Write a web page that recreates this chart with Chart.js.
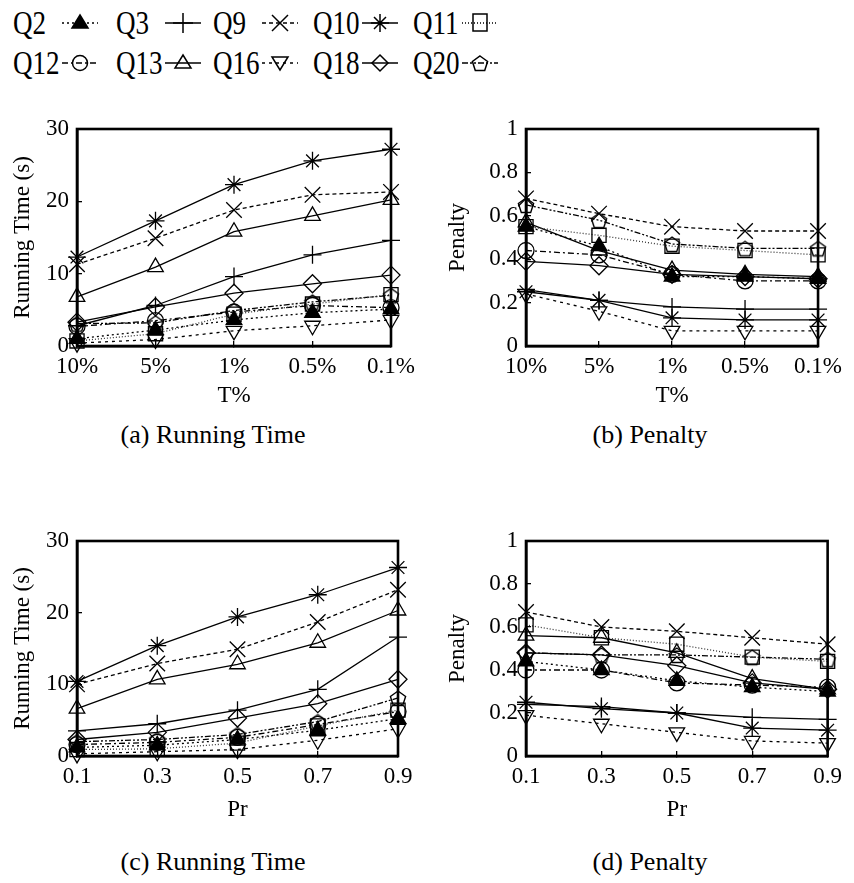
<!DOCTYPE html>
<html><head><meta charset="utf-8">
<script src="https://cdn.jsdelivr.net/npm/chart.js@4.4.0/dist/chart.umd.min.js"></script>
<style>
body{margin:0;background:#fff;width:854px;height:883px;position:relative;overflow:hidden;font-family:'Liberation Serif','Times New Roman','DejaVu Serif',serif;color:#000;}
canvas.cv{position:absolute;}
.legtxt{position:absolute;font-size:33px;line-height:34px;white-space:nowrap;transform:scaleX(0.82);transform-origin:0 50%;}
.legsvg{position:absolute;}
.cap{position:absolute;font-size:26px;line-height:30px;width:400px;text-align:center;white-space:nowrap;}
</style></head><body>
<canvas id="ca" class="cv" width="430" height="310" style="left:0;top:100px"></canvas>
<canvas id="cb" class="cv" width="424" height="310" style="left:430px;top:100px"></canvas>
<canvas id="cc" class="cv" width="430" height="310" style="left:0;top:510px"></canvas>
<canvas id="cd" class="cv" width="424" height="310" style="left:430px;top:510px"></canvas>
<div class="cap" style="left:13px;top:420px">(a) Running Time</div>
<div class="cap" style="left:450px;top:420px">(b) Penalty</div>
<div class="cap" style="left:13px;top:847px">(c) Running Time</div>
<div class="cap" style="left:450px;top:847px">(d) Penalty</div>
<div id="legend"></div>
<script>
// ---- data ----
const seriesNames = ['Q2','Q3','Q9','Q10','Q11','Q12','Q13','Q16','Q18','Q20'];
const tLabels = ['10%','5%','1%','0.5%','0.1%'];
const prLabels = ['0.1','0.3','0.5','0.7','0.9'];
const timeTicks = [0,10,20,30];
const penaltyTicks = [0,0.2,0.4,0.6,0.8,1];

// (a) Running Time vs T%
const timeT_Q2  = [1.0, 2.2, 3.6, 4.6, 5.1];
const timeT_Q3  = [2.8, 5.6, 9.6, 12.6, 14.6];
const timeT_Q9  = [11.3, 14.9, 18.8, 20.9, 21.3];
const timeT_Q10 = [12.3, 17.3, 22.3, 25.6, 27.2];
const timeT_Q11 = [0.7, 1.7, 4.4, 5.8, 7.1];
const timeT_Q12 = [2.7, 3.5, 4.7, 5.6, 5.3];
const timeT_Q13 = [6.8, 10.9, 15.8, 18.0, 20.2];
const timeT_Q16 = [0.4, 0.9, 2.1, 2.8, 3.6];
const timeT_Q18 = [3.3, 5.4, 7.3, 8.6, 9.8];
const timeT_Q20 = [3.1, 3.2, 4.9, 6.1, 7.0];

// (b) Penalty vs T%
const penT_Q2  = [0.55, 0.46, 0.32, 0.32, 0.31];
const penT_Q3  = [0.26, 0.21, 0.18, 0.17, 0.17];
const penT_Q9  = [0.68, 0.61, 0.55, 0.53, 0.53];
const penT_Q10 = [0.25, 0.21, 0.13, 0.12, 0.12];
const penT_Q11 = [0.55, 0.51, 0.46, 0.44, 0.42];
const penT_Q12 = [0.44, 0.42, 0.33, 0.30, 0.30];
const penT_Q13 = [0.57, 0.44, 0.35, 0.33, 0.32];
const penT_Q16 = [0.24, 0.16, 0.07, 0.07, 0.07];
const penT_Q18 = [0.39, 0.37, 0.33, 0.32, 0.31];
const penT_Q20 = [0.65, 0.58, 0.47, 0.45, 0.45];

// (c) Running Time vs Pr
const timePr_Q2  = [1.2, 1.5, 2.3, 3.6, 5.2];
const timePr_Q3  = [3.5, 4.5, 6.4, 9.3, 16.6];
const timePr_Q9  = [10.0, 12.9, 14.9, 18.7, 23.2];
const timePr_Q10 = [10.4, 15.4, 19.4, 22.5, 26.3];
const timePr_Q11 = [0.9, 1.0, 1.8, 4.2, 6.4];
const timePr_Q12 = [1.6, 1.9, 2.6, 4.4, 6.2];
const timePr_Q13 = [6.6, 10.7, 12.8, 15.8, 20.3];
const timePr_Q16 = [0.3, 0.6, 0.9, 2.2, 3.8];
const timePr_Q18 = [2.3, 3.3, 5.3, 7.3, 10.7];
const timePr_Q20 = [2.0, 2.3, 3.0, 4.8, 8.1];

// (d) Penalty vs Pr
const penPr_Q2  = [0.44, 0.40, 0.35, 0.32, 0.30];
const penPr_Q3  = [0.24, 0.23, 0.20, 0.18, 0.17];
const penPr_Q9  = [0.67, 0.60, 0.58, 0.55, 0.52];
const penPr_Q10 = [0.25, 0.22, 0.20, 0.13, 0.12];
const penPr_Q11 = [0.61, 0.55, 0.52, 0.46, 0.44];
const penPr_Q12 = [0.40, 0.40, 0.34, 0.33, 0.32];
const penPr_Q13 = [0.56, 0.55, 0.48, 0.36, 0.31];
const penPr_Q16 = [0.19, 0.15, 0.11, 0.07, 0.06];
const penPr_Q18 = [0.48, 0.47, 0.42, 0.34, 0.31];
const penPr_Q20 = [0.48, 0.47, 0.47, 0.46, 0.45];

const timeT = [timeT_Q2,timeT_Q3,timeT_Q9,timeT_Q10,timeT_Q11,timeT_Q12,timeT_Q13,timeT_Q16,timeT_Q18,timeT_Q20];
const penT = [penT_Q2,penT_Q3,penT_Q9,penT_Q10,penT_Q11,penT_Q12,penT_Q13,penT_Q16,penT_Q18,penT_Q20];
const timePr = [timePr_Q2,timePr_Q3,timePr_Q9,timePr_Q10,timePr_Q11,timePr_Q12,timePr_Q13,timePr_Q16,timePr_Q18,timePr_Q20];
const penPr = [penPr_Q2,penPr_Q3,penPr_Q9,penPr_Q10,penPr_Q11,penPr_Q12,penPr_Q13,penPr_Q16,penPr_Q18,penPr_Q20];

// ---- styles ----
function makePentagon(r){
  const c = document.createElement('canvas');
  const s = Math.ceil(r*2+4); c.width = s; c.height = s;
  const g = c.getContext('2d');
  g.strokeStyle = '#000'; g.lineWidth = 1.4;
  g.beginPath();
  for (let k=0;k<5;k++){
    const a = -Math.PI/2 + k*2*Math.PI/5;
    const px = s/2 + r*Math.cos(a), py = s/2 + 1 + r*Math.sin(a);
    k ? g.lineTo(px,py) : g.moveTo(px,py);
  }
  g.closePath(); g.stroke();
  return c;
}
const pent = makePentagon(8);
const styles = [
  {dash:[2,3], ps:'triangle', r:9, fill:true, sym:'tri'},
  {dash:[], ps:'cross', r:9, sym:'plus'},
  {dash:[4,3], ps:'crossRot', r:11, sym:'x'},
  {dash:[], ps:'star', r:9, sym:'star'},
  {dash:[1,2], ps:'rect', r:10, sym:'sq', color:'#333'},
  {dash:[6,3,2,3], ps:'circle', r:8, sym:'circ'},
  {dash:[], ps:'triangle', r:9, sym:'tri'},
  {dash:[3,4], ps:'triangle', r:9, rot:180, sym:'dtri'},
  {dash:[], ps:'rectRot', r:9, sym:'dia'},
  {dash:[6,2,2,2,2,2], ps:pent, r:8, sym:'pent'}
];

const font = {family:"'Liberation Serif', 'Times New Roman', 'DejaVu Serif', serif", size:23};
const framePlugin = {
  id:'frame',
  afterDraw(chart){
    const a = chart.chartArea, c = chart.ctx;
    c.save(); c.strokeStyle='#000'; c.lineWidth=2.6;
    c.strokeRect(a.left, a.top, a.right-a.left, a.bottom-a.top);
    c.restore();
  }
};

function makeChart(id, labels, dataArr, yTicks, yMax, yTitle, xTitle, g){
  new Chart(document.getElementById(id), {
    type:'line',
    data:{
      labels: labels,
      datasets: seriesNames.map((n,i)=>({
        label:n, data:dataArr[i],
        borderColor: styles[i].color || '#000', borderWidth:1.3, borderDash:styles[i].dash,
        pointStyle: styles[i].ps, pointRadius: styles[i].r, pointRotation: styles[i].rot||0,
        pointBackgroundColor: styles[i].fill ? '#000' : 'rgba(0,0,0,0)',
        pointBorderColor:'#000', pointBorderWidth:1.3,
        fill:false, tension:0, clip:false
      }))
    },
    options:{
      responsive:false, animation:false, events:[],
      layout:{padding:{top:g.top, right:g.right, left:0, bottom:0}},
      plugins:{legend:{display:false}, tooltip:{enabled:false}},
      scales:{
        x:{
          type:'category', offset:false,
          afterFit: s => { s.height = 64; },
          grid:{display:true, drawOnChartArea:false, drawTicks:true, tickLength:-5, color:'#000', lineWidth:1.3},
          border:{display:true, color:'#000', width:2.6},
          ticks:{font:font, color:'#000', padding:12, maxRotation:0, autoSkip:false},
          title:{display:true, text:xTitle, font:font, color:'#000', padding:{top:0, bottom:g.xtb}}
        },
        y:{
          min:0, max:yMax,
          afterFit: s => { s.width = g.yw; },
          afterBuildTicks: s => { s.ticks = yTicks.map(v => ({value:v})); },
          grid:{display:true, drawOnChartArea:false, drawTicks:true, tickLength:-5, color:'#000', lineWidth:1.3},
          border:{display:true, color:'#000', width:2.6},
          ticks:{font:font, color:'#000', padding:13, callback: v => String(+(+v).toFixed(2))},
          title:{display:true, text:yTitle, font:font, color:'#000', padding:{top:g.ytp, bottom:0}}
        }
      }
    },
    plugins:[framePlugin]
  });
}

makeChart('ca', tLabels, timeT, timeTicks, 30, 'Running Time (s)', 'T%', {top:29, right:39, yw:77, ytp:9, xtb:0});
makeChart('cb', tLabels, penT, penaltyTicks, 1, 'Penalty', 'T%', {top:29, right:27, yw:96, ytp:14, xtb:0});
makeChart('cc', prLabels, timePr, timeTicks, 30, 'Running Time (s)', 'Pr', {top:31, right:32, yw:77, ytp:9, xtb:-4});
makeChart('cd', prLabels, penPr, penaltyTicks, 1, 'Penalty', 'Pr', {top:31, right:21, yw:96, ytp:14, xtb:-4});

// ---- legend (HTML text + SVG samples) ----
function symSvg(sym, fill){
  const st = 'stroke="#000" stroke-width="1.5"';
  switch(sym){
    case 'tri': return `<polygon points="18,7 26,20 10,20" ${st} fill="${fill?'#000':'none'}"/>`;
    case 'dtri': return `<polygon points="10,9 26,9 18,22" ${st} fill="none"/>`;
    case 'plus': return `<path d="M18,5 V25 M8,15 H28" ${st} fill="none"/>`;
    case 'x': return `<path d="M10,7 L26,23 M26,7 L10,23" ${st} fill="none"/>`;
    case 'star': return `<path d="M18,6 V24 M9,15 H27 M12,9 L24,21 M24,9 L12,21" ${st} fill="none"/>`;
    case 'sq': return `<rect x="11" y="6" width="14" height="17" ${st} fill="none"/>`;
    case 'circ': return `<circle cx="18" cy="15" r="7.5" ${st} fill="none"/>`;
    case 'dia': return `<polygon points="18,7 26,15 18,23 10,15" ${st} fill="none"/>`;
    case 'pent': {
      let p=[]; for(let k=0;k<5;k++){const a=-Math.PI/2+k*2*Math.PI/5; p.push((18+8*Math.cos(a)).toFixed(1)+','+(16+8*Math.sin(a)).toFixed(1));}
      return `<polygon points="${p.join(' ')}" ${st} fill="none"/>`;
    }
  }
  return '';
}
const legCols = [13,116,213,313,413];
const legRows = [23,63];
const legend = document.getElementById('legend');
seriesNames.forEach((n,i)=>{
  const col = legCols[i%5], row = legRows[Math.floor(i/5)];
  const t = document.createElement('div');
  t.className='legtxt'; t.textContent=n;
  t.style.left = col+'px'; t.style.top = (row-17)+'px';
  legend.appendChild(t);
  const s = styles[i];
  const dash = s.dash.length ? `stroke-dasharray="${s.dash.join(',')}"` : '';
  const svg = `<svg class="legsvg" width="36" height="30" style="left:${col+49}px;top:${row-15}px" xmlns="http://www.w3.org/2000/svg"><line x1="0" y1="15" x2="36" y2="15" stroke="#000" stroke-width="1.5" ${dash}/>${symSvg(s.sym, s.fill)}</svg>`;
  legend.insertAdjacentHTML('beforeend', svg);
});
</script>
</body></html>
